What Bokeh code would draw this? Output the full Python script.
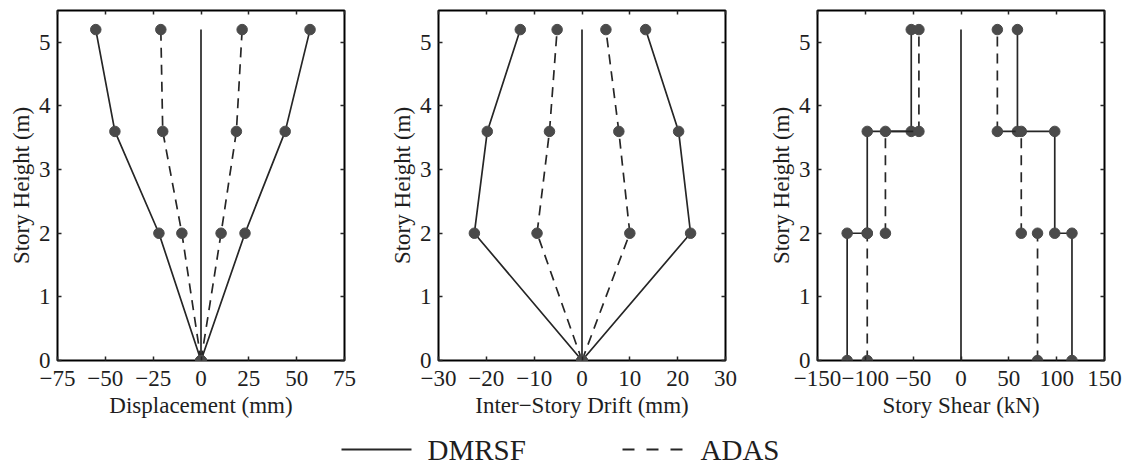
from bokeh.plotting import figure
from bokeh.layouts import column, row
from bokeh.models import Range1d, LinearAxis, FixedTicker, CustomJSTickFormatter, Label
from bokeh.embed import file_html
from bokeh.resources import INLINE

# ---------------- data ----------------
heights = [0.0, 2.0, 3.6, 5.2]

disp_dmrsf_pos = [0, 23, 44, 57]
disp_dmrsf_neg = [0, -22, -45, -55]
disp_adas_pos = [0, 10.5, 18.5, 21.5]
disp_adas_neg = [0, -10, -20, -21]

drift_dmrsf_pos = [0, 22.7, 20.2, 13.3]
drift_dmrsf_neg = [0, -22.5, -19.8, -12.9]
drift_adas_pos = [0, 10.0, 7.7, 5.0]
drift_adas_neg = [0, -9.4, -6.8, -5.2]

# story shear per story (stories: 0-2, 2-3.6, 3.6-5.2)
shear_dmrsf_pos = [116, 98, 59]
shear_dmrsf_neg = [-119, -98, -52]
shear_adas_pos = [80, 63, 38]
shear_adas_neg = [-98, -79, -44]

disp_ticks = [-75, -50, -25, 0, 25, 50, 75]
drift_ticks = [-30, -20, -10, 0, 10, 20, 30]
shear_ticks = [-150, -100, -50, 0, 50, 100, 150]
height_ticks = [0, 1, 2, 3, 4, 5]

x_labels = ["Displacement (mm)", "Inter\u2212Story Drift (mm)", "Story Shear (kN)"]
y_label = "Story Height (m)"
legend_labels = ["DMRSF", "ADAS"]

# ---------------- style ----------------
FONT = "Liberation Serif"
LINE = "#262626"
MARK = "#4a4a4a"
TXT = "#1e1e1e"
DASH = "10 7"
LW = 1.7
MS = 10.5
FS = "23px"

minus_fmt = CustomJSTickFormatter(code="return tick < 0 ? '\\u2212' + Math.abs(tick) : String(tick);")


def make_panel(ticks, xlabel, width, bl, br):
    lim = max(abs(t) for t in ticks)
    p = figure(width=width, height=420, x_range=Range1d(-lim, lim), y_range=Range1d(0, 5.5),
               output_backend="svg", toolbar_location=None, title=None,
               min_border_left=bl, min_border_right=br, min_border_top=10, min_border_bottom=60)
    p.xgrid.visible = False
    p.ygrid.visible = False
    p.outline_line_color = "black"
    p.outline_line_width = 2
    p.outline_line_alpha = 1
    p.background_fill_color = "white"
    p.border_fill_color = "white"

    for ax, tk in ((p.xaxis[0], ticks), (p.yaxis[0], height_ticks)):
        ax.ticker = FixedTicker(ticks=tk)
        ax.formatter = minus_fmt
        ax.major_tick_in = 4
        ax.major_tick_out = 0
        ax.minor_tick_line_color = None
        ax.axis_line_color = None
        ax.major_tick_line_color = LINE
        ax.major_tick_line_width = 1.5
        ax.major_label_text_font = FONT
        ax.major_label_text_font_size = FS
        ax.major_label_text_color = TXT
        ax.axis_label_text_font = FONT
        ax.axis_label_text_font_size = FS
        ax.axis_label_text_font_style = "normal"
        ax.axis_label_text_color = TXT
    p.xaxis[0].axis_label = xlabel
    p.xaxis[0].major_label_standoff = 10
    p.xaxis[0].axis_label_standoff = 4
    p.yaxis[0].axis_label = y_label
    p.yaxis[0].major_label_standoff = 7
    p.yaxis[0].axis_label_standoff = 2

    for loc, tk in (("above", ticks), ("right", height_ticks)):
        ax = LinearAxis(ticker=FixedTicker(ticks=tk),
                        formatter=CustomJSTickFormatter(code="return '';"),
                        major_label_text_font_size="0px", major_label_standoff=0,
                        major_tick_in=4, major_tick_out=0,
                        minor_tick_line_color=None, axis_line_color=None,
                        major_tick_line_color=LINE, major_tick_line_width=1.5)
        p.add_layout(ax, loc)
    # central reference line
    p.line([0, 0], [heights[0], heights[-1]], line_color=LINE, line_width=LW)
    return p


def profile(p, xs, dashed):
    p.line(xs, heights, line_color=LINE, line_width=LW, line_dash=DASH if dashed else "solid")
    p.scatter(xs, heights, size=MS, fill_color=MARK, line_color=MARK)


p1 = make_panel(disp_ticks, x_labels[0], 376, 57, 32)
for xs in (disp_dmrsf_pos, disp_dmrsf_neg):
    profile(p1, xs, False)
for xs in (disp_adas_pos, disp_adas_neg):
    profile(p1, xs, True)

p2 = make_panel(drift_ticks, x_labels[1], 376, 62, 27)
for xs in (drift_dmrsf_pos, drift_dmrsf_neg):
    profile(p2, xs, False)
for xs in (drift_adas_pos, drift_adas_neg):
    profile(p2, xs, True)

p3 = make_panel(shear_ticks, x_labels[2], 376, 65, 24)
bottoms = heights[:-1]
tops = heights[1:]
for vals in (shear_dmrsf_pos, shear_dmrsf_neg):
    sx, sy = [], []
    for v, b, t in zip(vals, bottoms, tops):
        sx += [v, v]
        sy += [b, t]
    p3.line(sx, sy, line_color=LINE, line_width=LW)
    p3.scatter(vals + vals, bottoms + tops, size=MS, fill_color=MARK, line_color=MARK)
for vals in (shear_adas_pos, shear_adas_neg):
    p3.segment(x0=vals, y0=bottoms, x1=vals, y1=tops, line_color=LINE, line_width=LW, line_dash=DASH)
    p3.segment(x0=[vals[1]], y0=[heights[2]], x1=[vals[2]], y1=[heights[2]], line_color=LINE, line_width=LW)
    p3.scatter(vals + vals, bottoms + tops, size=MS, fill_color=MARK, line_color=MARK)

# ---------------- legend strip ----------------
leg = figure(width=1128, height=46, x_range=Range1d(0, 1128), y_range=Range1d(0, 46),
             output_backend="svg", toolbar_location=None, x_axis_type=None, y_axis_type=None,
             min_border=0, title=None)
leg.outline_line_color = None
leg.xgrid.visible = False
leg.ygrid.visible = False
leg.line([341, 411], [17, 17], line_color=LINE, line_width=2)
leg.line([622, 682], [17, 17], line_color=LINE, line_width=2, line_dash="12 12")
for lx, txt in zip([427, 700], legend_labels):
    leg.add_layout(Label(x=lx, y=17, text=txt, text_font=FONT, text_font_size="29px",
                         text_color=TXT, text_baseline="middle", text_align="left"))

layout = column(row(p1, p2, p3, spacing=0), leg, spacing=0)
open("out.html", "w").write(file_html(layout, INLINE))
